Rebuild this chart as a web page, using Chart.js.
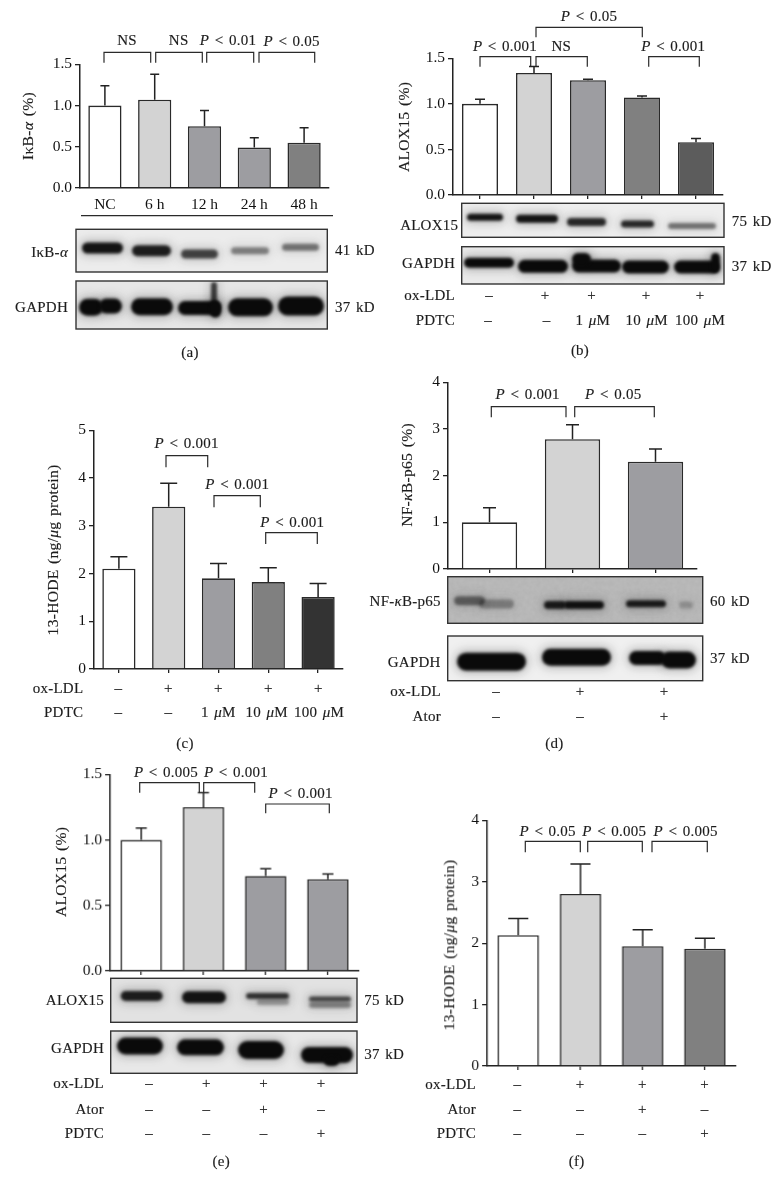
<!DOCTYPE html>
<html>
<head>
<meta charset="utf-8">
<script src="https://cdn.jsdelivr.net/npm/chart.js@4/dist/chart.umd.min.js"></script>
<style>
  html, body { margin: 0; padding: 0; background: #fff; }
  #page { position: relative; width: 781px; height: 1194px; overflow: hidden; }
  #page canvas, #page svg { position: absolute; }
  .t { position: absolute; white-space: nowrap; font: 15px "Liberation Serif", serif; color: #1c1c1c; line-height: 1; word-spacing: 1.5px; letter-spacing: .25px; -webkit-text-stroke: .15px #1c1c1c; }
  .t.big { font-size: 15.6px; }
</style>
</head>
<body>
<div id="page">
  <svg width="781" height="1194" style="left:0;top:0">
    <filter id="grain" x="0" y="0" width="100%" height="100%"><feTurbulence type="fractalNoise" baseFrequency="0.22" numOctaves="2" seed="4"/><feColorMatrix values="0 0 0 0 .5  0 0 0 0 .5  0 0 0 0 .5  0 0 0 1.1 -.1"/></filter>
    <rect x="448" y="577" width="255" height="46" fill="#b4b4b4"/>
    <rect x="448" y="577" width="255" height="46" filter="url(#grain)"/>
  </svg>
  <canvas id="overlay" width="781" height="1194" style="left:0;top:0"></canvas>
</div>
<script>
// ---- data ----
const catsA = ['NC', '6 h', '12 h', '24 h', '48 h'];
const valsA = [1.0, 1.07, 0.75, 0.49, 0.55];
const topsA = [1.24, 1.38, 0.94, 0.61, 0.73];
const ticksA = [0, 0.5, 1.0, 1.5];

const catsB = ['1', '2', '3', '4', '5'];
const valsB = [1.0, 1.34, 1.26, 1.07, 0.58];
const topsB = [1.05, 1.41, 1.27, 1.085, 0.62];
const ticksB = [0, 0.5, 1.0, 1.5];
const oxLdlB = ['–', '+', '+', '+', '+'];
const pdtcB = ['–', '–', '1 <i>μ</i>M', '10 <i>μ</i>M', '100 <i>μ</i>M'];

const catsC = ['1', '2', '3', '4', '5'];
const valsC = [2.1, 3.4, 1.9, 1.82, 1.51];
const topsC = [2.35, 3.89, 2.21, 2.12, 1.79];
const ticksC = [0, 1, 2, 3, 4, 5];
const oxLdlC = ['–', '+', '+', '+', '+'];
const pdtcC = ['–', '–', '1 <i>μ</i>M', '10 <i>μ</i>M', '100 <i>μ</i>M'];

const catsD = ['1', '2', '3'];
const valsD = [1.0, 2.78, 2.3];
const topsD = [1.31, 3.09, 2.57];
const ticksD = [0, 1, 2, 3, 4];
const oxLdlD = ['–', '+', '+'];
const atorD = ['–', '–', '+'];

const catsE = ['1', '2', '3', '4'];
const valsE = [1.0, 1.25, 0.725, 0.70];
const topsE = [1.09, 1.36, 0.78, 0.74];
const ticksE = [0, 0.5, 1.0, 1.5];
const oxLdlE = ['–', '+', '+', '+'];
const atorE = ['–', '–', '+', '–'];
const pdtcE = ['–', '–', '–', '+'];

const catsF = ['1', '2', '3', '4'];
const valsF = [2.13, 2.8, 1.95, 1.91];
const topsF = [2.4, 3.29, 2.22, 2.08];
const ticksF = [0, 1, 2, 3, 4];
const oxLdlF = ['–', '+', '+', '+'];
const atorF = ['–', '–', '+', '–'];
const pdtcF = ['–', '–', '–', '+'];

// bar greys
const W = '#ffffff', L = '#d3d3d3', M = '#9d9da1', D = '#808080', K = '#5c5c5c', B = '#333333';

const INK = '#222';
const FONT = '"Liberation Serif", serif';

// error bars on top of each bar, through the chart's own scales
const errorBars = {
  id: 'errorBars',
  afterDatasetsDraw(chart, args, opts) {
    const { ctx, scales: { x, y } } = chart;
    ctx.save();
    ctx.strokeStyle = INK;
    ctx.lineWidth = 1.5;
    opts.tops.forEach((top, i) => {
      const px = x.getPixelForValue(i);
      ctx.beginPath();
      ctx.moveTo(px, y.getPixelForValue(chart.data.datasets[0].data[i]));
      ctx.lineTo(px, y.getPixelForValue(top));
      ctx.moveTo(px - opts.cap / 2, y.getPixelForValue(top));
      ctx.lineTo(px + opts.cap / 2, y.getPixelForValue(top));
      ctx.stroke();
    });
    ctx.restore();
  }
};

function barPanel(p) {
  const cv = document.createElement('canvas');
  const a = p.area;
  const w = 40 + (a.r - a.l) + 8, h = 12 + (a.b - a.t) + 30;
  cv.width = w; cv.height = h;
  cv.style.cssText = `left:${a.l - 40}px;top:${a.t - 12}px;width:${w}px;height:${h}px`;
  document.getElementById('page').appendChild(cv);
  new Chart(cv.getContext('2d'), {
    type: 'bar',
    data: {
      labels: p.cats,
      datasets: [{
        data: p.vals,
        backgroundColor: p.fills,
        borderColor: '#2a2a2a',
        borderWidth: 1.6,
        borderSkipped: 'bottom',
        categoryPercentage: 1,
        barPercentage: 0.667
      }]
    },
    plugins: [errorBars],
    options: {
      responsive: false,
      animation: false,
      layout: { autoPadding: false, padding: { left: 0, top: 12, right: 8, bottom: 0 } },
      plugins: {
        legend: { display: false },
        tooltip: { enabled: false },
        errorBars: { tops: p.tops, cap: p.cap }
      },
      scales: {
        x: {
          afterFit: s => { s.height = 30; },
          grid: { display: !p.showCats, drawOnChartArea: false, offset: false, tickLength: 4, color: INK, lineWidth: 1.3 },
          border: { color: INK, width: 1.5 },
          ticks: { display: !!p.showCats, color: '#111', padding: 4, maxRotation: 0, autoSkip: false, font: { family: FONT, size: 15.5 } }
        },
        y: {
          min: 0,
          max: p.ticks[p.ticks.length - 1],
          afterFit: s => { s.width = 40; },
          afterBuildTicks: s => { s.ticks = p.ticks.map(v => ({ value: v })); },
          grid: { drawOnChartArea: false, tickLength: 5, color: INK, lineWidth: 1.3 },
          border: { color: INK, width: 1.5 },
          ticks: { color: '#111', padding: 3, font: { family: FONT, size: 15.5 }, callback: v => p.decimals ? v.toFixed(1) : String(v) }
        }
      }
    }
  });
}

barPanel({ cats: catsA, vals: valsA, tops: topsA, ticks: ticksA, decimals: 1, cap: 9, showCats: true,
  fills: [W, L, M, M, D], area: { l: 79.5, r: 329, t: 63.7, b: 188.3 } });
barPanel({ cats: catsB, vals: valsB, tops: topsB, ticks: ticksB, decimals: 1, cap: 10,
  fills: [W, L, M, D, K], area: { l: 453, r: 723, t: 58.3, b: 195.3 } });
barPanel({ cats: catsC, vals: valsC, tops: topsC, ticks: ticksC, cap: 17,
  fills: [W, L, M, D, B], area: { l: 94, r: 343, t: 430, b: 669.3 } });
barPanel({ cats: catsD, vals: valsD, tops: topsD, ticks: ticksD, cap: 13,
  fills: [W, L, M], area: { l: 447.7, r: 696.7, t: 381.7, b: 569.3 } });
barPanel({ cats: catsE, vals: valsE, tops: topsE, ticks: ticksE, decimals: 1, cap: 11,
  fills: [W, L, M, M], area: { l: 110.3, r: 359, t: 774.3, b: 971 } });
barPanel({ cats: catsF, vals: valsF, tops: topsF, ticks: ticksF, cap: 20,
  fills: [W, L, M, D], area: { l: 487, r: 735.7, t: 819.7, b: 1065.7 } });

// ---- text ----
function text(html, x, y, anchor, rotate) {
  const el = document.createElement('div');
  el.className = rotate ? 't big' : 't';
  el.innerHTML = html;
  const tx = anchor === 'r' ? '-100%' : anchor === 'l' ? '0' : '-50%';
  el.style.left = x + 'px';
  el.style.top = y + 'px';
  el.style.transform = `translate(${tx},-50%)` + (rotate ? ' rotate(-90deg)' : '');
  document.getElementById('page').appendChild(el);
}
function row(name, cells, y, right, xs) {
  text(name, right, y, 'r');
  cells.forEach((c, i) => text(c, xs[i], y, 'c'));
}
const P = s => `<i>P</i> &lt; ${s}`;

// y axis titles
text('IκB-<i>α</i> (%)', 28.3, 125.7, 'c', true);
text('ALOX15 (%)', 404, 126.7, 'c', true);
text('13-HODE (ng/<i>μ</i>g protein)', 53.3, 550, 'c', true);
text('NF-<i>κ</i>B-p65 (%)', 407.3, 475, 'c', true);
text('ALOX15 (%)', 60.7, 872.3, 'c', true);
text('13-HODE (ng/<i>μ</i>g protein)', 449.3, 945, 'c', true);

// significance labels
[['NS', 127, 40], ['NS', 178.7, 40], [P('0.01'), 228, 40], [P('0.05'), 291.7, 41],
 [P('0.05'), 589, 16], [P('0.001'), 505, 45.7], ['NS', 561.3, 45.7], [P('0.001'), 673.3, 45.7],
 [P('0.001'), 186.7, 443], [P('0.001'), 237.3, 484], [P('0.001'), 292.3, 521.7],
 [P('0.001'), 527.7, 394.3], [P('0.05'), 613.3, 394.3],
 [P('0.005'), 166, 772.3], [P('0.001'), 236, 772.3], [P('0.001'), 300.7, 793.3],
 [P('0.05'), 547.7, 830.7], [P('0.005'), 614.3, 830.7], [P('0.005'), 685.7, 830.7]
].forEach(l => text(l[0], l[1], l[2], 'c'));

// blot labels
[['IκB-<i>α</i>', 68, 251.7, 'r'], ['GAPDH', 68, 306.7, 'r'], ['41 kD', 335, 250, 'l'], ['37 kD', 335, 306.7, 'l'],
 ['ALOX15', 458.3, 225, 'r'], ['GAPDH', 455, 263, 'r'], ['75 kD', 731.7, 220.7, 'l'], ['37 kD', 731.7, 265.7, 'l'],
 ['NF-<i>κ</i>B-p65', 440.7, 600.7, 'r'], ['GAPDH', 440.7, 661.7, 'r'], ['60 kD', 710, 601.3, 'l'], ['37 kD', 710, 658.3, 'l'],
 ['ALOX15', 104, 1000, 'r'], ['GAPDH', 104, 1048.3, 'r'], ['75 kD', 364.3, 1000, 'l'], ['37 kD', 364.3, 1054, 'l']
].forEach(l => text(l[0], l[1], l[2], l[3]));

// treatment rows
row('ox-LDL', oxLdlB, 295, 455, [489, 545, 591.7, 646, 700]);
row('PDTC', pdtcB, 320, 455, [488, 546.7, 592.7, 646.7, 700]);
row('ox-LDL', oxLdlC, 688, 83.3, [118.3, 168.3, 218.3, 268.3, 318.3]);
row('PDTC', pdtcC, 711.7, 83.3, [118.3, 168.3, 218.3, 266.7, 319]);
row('ox-LDL', oxLdlD, 691, 441, [496, 580, 664]);
row('Ator', atorD, 715.7, 441, [496, 580, 664]);
const rowXE = [149, 206.3, 263.7, 321], rowXF = [517.3, 580, 642.3, 704.7];
row('ox-LDL', oxLdlE, 1083.3, 104, rowXE);
row('Ator', atorE, 1109.3, 104, rowXE);
row('PDTC', pdtcE, 1133.3, 104, rowXE);
row('ox-LDL', oxLdlF, 1084.3, 476, rowXF);
row('Ator', atorF, 1109.3, 476, rowXF);
row('PDTC', pdtcF, 1132.7, 476, rowXF);

// panel letters
[['(a)', 190, 351.7], ['(b)', 580, 350], ['(c)', 185, 743], ['(d)', 554.3, 743], ['(e)', 221.3, 1161], ['(f)', 576.7, 1160.7]]
  .forEach(l => text(l[0], l[1], l[2], 'c'));

// ---- brackets and blots on the overlay ----
const ctx = document.getElementById('overlay').getContext('2d');

ctx.strokeStyle = '#2a2a2a';
ctx.lineWidth = 1.2;
// x0, x1, top, bottom
[[104, 150.7, 52.3, 62.7], [155.7, 202.3, 52.3, 62.7], [206.7, 253.7, 52.3, 62.7], [259, 314.7, 52.3, 62.7],
 [480, 530.7, 56.7, 66.7], [536, 587.3, 56.7, 66.7], [536, 642.3, 27.3, 37.3], [648.7, 699.3, 56.7, 66.7],
 [166, 207.7, 455.7, 467.3], [214, 260.3, 495.7, 507.3], [265.7, 317.3, 532.7, 544],
 [491.3, 566, 406.7, 417.3], [574.7, 654.3, 406.7, 417.3],
 [139.7, 199.3, 782.7, 792.7], [203.7, 254.7, 782.7, 792.7], [265.7, 329.3, 804, 813.3],
 [525.3, 580.3, 841.3, 852.3], [587.7, 642.3, 841.3, 852.3], [652, 707.3, 841.3, 852.3]
].forEach(b => {
  ctx.beginPath();
  ctx.moveTo(b[0], b[3]);
  ctx.lineTo(b[0], b[2]);
  ctx.lineTo(b[1], b[2]);
  ctx.lineTo(b[1], b[3]);
  ctx.stroke();
});

// rule under the panel (a) labels
ctx.beginPath();
ctx.moveTo(81, 215.7);
ctx.lineTo(333, 215.7);
ctx.stroke();

function bandShape(b, grow) {
  const h = b[3] + grow;
  ctx.beginPath();
  ctx.roundRect(b[0] - grow / 2, b[2] - h / 2, b[1] - b[0] + grow, h, h / 2);
  ctx.fill();
}

function blot(x0, y0, x1, y1, bg, bands) {
  if (bg) { ctx.fillStyle = bg; ctx.fillRect(x0, y0, x1 - x0, y1 - y0); }
  ctx.save();
  ctx.beginPath();
  ctx.rect(x0, y0, x1 - x0, y1 - y0);
  ctx.clip();
  // soft halo first, then the dark core of the band
  ctx.filter = 'blur(5px)';
  bands.forEach(b => { ctx.fillStyle = `rgba(40,40,40,${b[4] * 0.28})`; bandShape(b, 7); });
  ctx.filter = 'blur(1.8px)';
  bands.forEach(b => { ctx.fillStyle = `rgba(10,10,10,${b[4]})`; bandShape(b, 2); });
  ctx.restore();
  ctx.strokeStyle = '#333';
  ctx.lineWidth = 1.4;
  ctx.strokeRect(x0, y0, x1 - x0, y1 - y0);
}

// band: x0, x1, centre y, thickness, darkness
blot(76, 229.3, 327.3, 272, '#ececec', [[83, 122, 248, 9, .95], [133, 170, 250.7, 9, .9], [182, 217, 254, 7, .72], [232, 268, 250.7, 5, .45], [283, 318, 247.3, 5, .5]]);
blot(76, 281, 327.3, 329, '#e6e6e6', [[80, 102, 307.3, 15, 1], [100, 121, 306, 13, 1], [132, 172, 306.7, 15, 1], [179, 220, 308, 12, 1], [212, 216, 294, 22, .75], [211, 220, 309, 15, 1], [229, 272, 307.3, 16, 1], [279, 323, 306, 17, 1]]);
blot(461.7, 203.3, 724, 237.3, '#eeeeee', [[468, 502, 217.3, 5, .95], [517, 557, 218.7, 6, .95], [568, 605, 222, 6, .85], [622, 653, 224, 5, .85], [669, 715, 226, 4, .5]]);
blot(461.7, 246.7, 724, 284, '#eaeaea', [[465, 513, 262.7, 8, 1], [519, 567, 266.3, 11, 1], [573, 620, 266, 11, 1], [573, 590, 259, 10, 1], [623, 668, 267, 11, 1], [675, 718, 267, 11, 1], [712, 719, 263, 18, 1]]);
blot(447.7, 576.7, 702.7, 623.3, null, [[455, 484, 600.7, 7, .5], [480, 513, 604, 7, .32], [545, 565, 605, 6, .9], [565, 603, 605, 6, .95], [627, 665, 603.7, 5, .9], [680, 692, 605, 5, .22]]);
blot(447.7, 636, 702.7, 680.7, '#f0f0f0', [[458, 525, 661.7, 16, 1], [543, 610, 657.3, 15, 1], [630, 665, 658, 12, 1], [662, 695, 660, 15, 1]]);
blot(110.7, 978.3, 357, 1022.3, '#e2e2e2', [[121.7, 161.7, 996, 8, .9], [183, 225, 997.3, 10, .95], [247, 288, 996, 4, .8], [258, 288, 1002, 4, .3], [310, 350, 999, 3, .7], [310, 350, 1005, 4, .4]]);
blot(110.7, 1031, 357, 1073.3, '#e8e8e8', [[118, 162, 1046, 15, 1], [178, 223, 1047.3, 14, 1], [239, 283, 1050, 16, 1], [302, 352, 1055, 14, 1], [325, 338, 1061, 8, 1]]);
</script>
</body>
</html>
